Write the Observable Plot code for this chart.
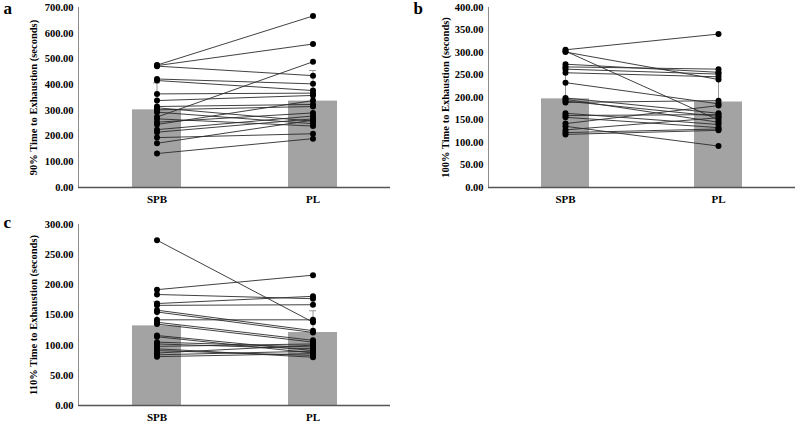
<!DOCTYPE html>
<html>
<head>
<meta charset="utf-8">
<script src="https://cdn.jsdelivr.net/npm/d3@7"></script>
<script src="https://cdn.jsdelivr.net/npm/@observablehq/plot@0.6"></script>
<style>
  body { margin: 0; background: #fff; }
  #wrap { position: relative; width: 800px; height: 424px; background: #fff; }
  .panel { position: absolute; }
  .panel text { font-family: "Liberation Serif", "Times New Roman", Times, serif; }
</style>
</head>
<body>
<div id="wrap"></div>
<script>
// Conditions (x categories)
const conditions = ["SPB", "PL"];

// Panel a: 90% time to exhaustion (seconds), paired per participant
const spbA = [476, 474, 472, 422, 416, 364, 338, 315, 310, 302, 293, 274, 267, 254, 245, 225, 215, 194, 172, 132];
const plA  = [667, 558, 435, 403, 377, 367, 358, 323, 258, 315, 248, 489, 239, 290, 338, 278, 267, 209, 262, 190];
const meanA = [302, 336];
const sdA   = [105, 119];

// Panel b: 100% time to exhaustion (seconds)
const spbB = [306, 303, 301, 274, 268, 263, 255, 233, 199, 196, 192, 189, 165, 160, 156, 142, 136, 128, 122, 118];
const plB  = [341, 150, 240, 256, 263, 252, 246, 186, 165, 145, 158, 193, 140, 162, 133, 182, 92, 155, 130, 127];
const meanB = [197, 190];
const sdB   = [70, 65];

// Panel c: 110% time to exhaustion (seconds)
const spbC = [274, 192, 184, 169, 166, 158, 155, 142, 138, 135, 116, 114, 105, 102, 98, 94, 91, 87, 84, 81];
const plC  = [138, 216, 177, 181, 167, 124, 121, 142, 108, 105, 91, 87, 97, 94, 102, 80, 83, 100, 90, 86];
const meanC = [132, 121];
const sdC   = [40, 36];

// Titles and ticks
const letters = ["a", "b", "c"];
const yTitles = ["90% Time to Exhaustion (seconds)", "100% Time to Exhaustion (seconds)", "110% Time to Exhaustion (seconds)"];
const ticksA = [0, 100, 200, 300, 400, 500, 600, 700];
const ticksB = [0, 50, 100, 150, 200, 250, 300, 350, 400];
const ticksC = [0, 50, 100, 150, 200, 250, 300];

const FONT = "\"Liberation Serif\", \"Times New Roman\", Times, serif";

function panel({letter, title, spb, pl, mean, sd, ticks, left, top, mL, mR, mT, mB, letterDx, letterDy, titleDx}) {
  const pairs = spb.map((s, i) => ({s, p: pl[i]}));
  const points = [
    ...spb.map(v => ({c: "SPB", v})),
    ...pl.map(v => ({c: "PL", v}))
  ];
  const bars = conditions.map((c, i) => ({c, m: mean[i], top: mean[i] + sd[i]}));
  const chart = Plot.plot({
    width: 400,
    height: 212,
    marginLeft: mL,
    marginRight: mR,
    marginTop: mT,
    marginBottom: mB,
    style: {fontFamily: FONT, fontWeight: "bold", color: "#000", background: "transparent", overflow: "visible"},
    x: {domain: conditions, paddingInner: 0.687, paddingOuter: 0.3435, label: null},
    y: {domain: [d3.min(ticks), d3.max(ticks)], label: null},
    marks: [
      Plot.barY(bars, {x: "c", y: "m", fill: "#a3a3a3"}),
      Plot.ruleX(bars, {x: "c", y1: "m", y2: "top", stroke: "#999", strokeWidth: 1}),
      Plot.tickY(bars, {x: "c", y: "top", stroke: "#999", strokeWidth: 1, insetLeft: 21, insetRight: 21}),
      Plot.link(pairs, {x1: () => "SPB", x2: () => "PL", y1: "s", y2: "p", stroke: "#2b2b2b", strokeWidth: 0.9}),
      Plot.dot(points, {x: "c", y: "v", r: 3, fill: "#000", stroke: "none"}),
      Plot.frame({anchor: "left", stroke: "#8c8c8c", strokeWidth: 1}),
      Plot.ruleY([0], {stroke: "#555", strokeWidth: 1.6}),
      Plot.axisY({ticks, tickSize: 0, tickPadding: 5, tickFormat: d3.format(".2f"), fontSize: 10.5, fontWeight: "bold", label: null}),
      Plot.axisX({tickSize: 0, tickPadding: 8, fontSize: 11, fontWeight: "bold", label: null}),
      Plot.text([title], {text: d => d, frameAnchor: "left", rotate: -90, dx: titleDx, textAnchor: "middle", lineAnchor: "middle", fontSize: 10.5, fontWeight: "bold", fill: "#000"}),
      Plot.text([letter], {text: d => d, frameAnchor: "top-left", dx: letterDx, dy: letterDy, textAnchor: "start", lineAnchor: "bottom", fontSize: 17, fontWeight: "bold", fill: "#000"})
    ]
  });
  chart.classList.add("panel");
  chart.style.left = left + "px";
  chart.style.top = top + "px";
  document.getElementById("wrap").appendChild(chart);
}

panel({letter: letters[0], title: yTitles[0], spb: spbA, pl: plA, mean: meanA, sd: sdA, ticks: ticksA,
  left: 0, top: 0, mL: 78, mR: 10, mT: 7, mB: 25, letterDx: -75, letterDy: 6, titleDx: -45});
panel({letter: letters[1], title: yTitles[1], spb: spbB, pl: plB, mean: meanB, sd: sdB, ticks: ticksB,
  left: 400, top: 0, mL: 88, mR: 5, mT: 7, mB: 25, letterDx: -75, letterDy: 6, titleDx: -43});
panel({letter: letters[2], title: yTitles[2], spb: spbC, pl: plC, mean: meanC, sd: sdC, ticks: ticksC,
  left: 0, top: 212, mL: 78, mR: 10, mT: 12, mB: 19, letterDx: -75, letterDy: 3, titleDx: -45});
</script>
</body>
</html>
